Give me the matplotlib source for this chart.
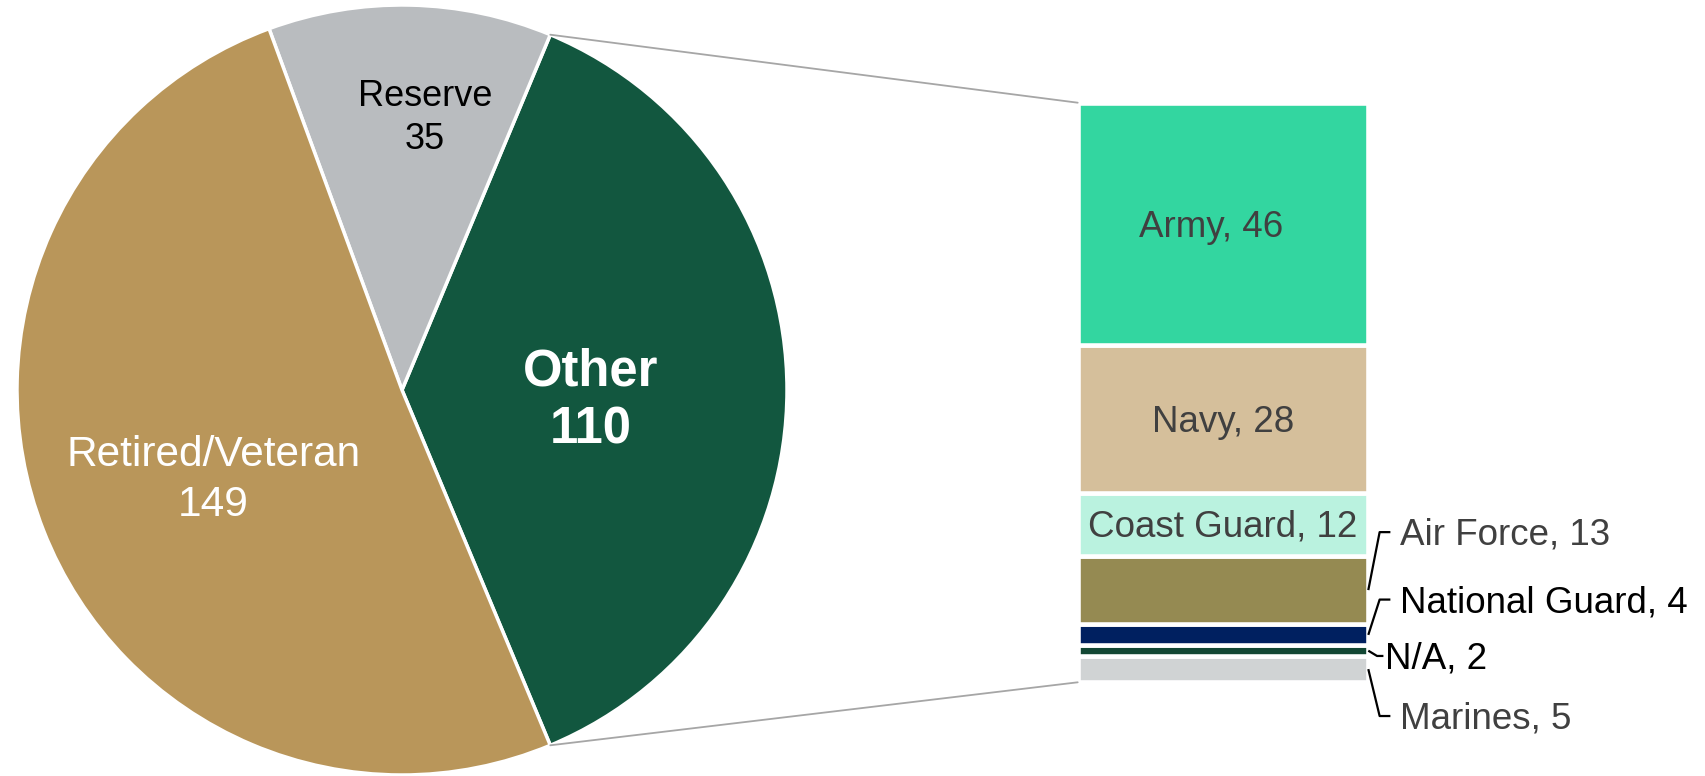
import numpy as np
import matplotlib.pyplot as plt
from matplotlib.patches import ConnectionPatch

plt.rcParams['font.family'] = ['Liberation Sans', 'DejaVu Sans']

# pie data
pie_labels = ["Other", "Reserve", "Retired/Veteran"]
pie_values = [110, 35, 149]
pie_colors = ["#12573F", "#B9BCBF", "#B9965A"]

# breakdown of "Other", bottom to top
sub_labels = ["Marines", "N/A", "National Guard", "Air Force", "Coast Guard", "Navy", "Army"]
sub_values = [5, 2, 4, 13, 12, 28, 46]
sub_colors = ["#D0D3D4", "#124734", "#002060", "#958A52", "#BAF2DF", "#D5BF9B", "#33D6A0"]

inside = {"Army", "Navy", "Coast Guard"}
outside_text_y = {"Air Force": 28.5, "National Guard": 15.7, "N/A": 5.0, "Marines": -6.4}
outside_colors = {"Air Force": "#404040", "National Guard": "black", "N/A": "black", "Marines": "#404040"}

W, H = 1706, 776
fig = plt.figure(figsize=(W / 100, H / 100), dpi=100)

# ---- pie ----
ax_pie = fig.add_axes([17 / W, 1 / H, 770 / W, 770 / H])
start = -360 * pie_values[0] / sum(pie_values) / 2
wedges, _ = ax_pie.pie(
    pie_values,
    colors=pie_colors,
    startangle=start,
    counterclock=True,
    radius=1,
    wedgeprops=dict(edgecolor="white", linewidth=2.5),
)
ax_pie.set_xlim(-1, 1)
ax_pie.set_ylim(-1, 1)
ax_pie.set_aspect("equal")
ax_pie.axis("off")

# label placement: distance from centre, angle nudge (deg), vertical shift
label_style = {
    "Other": dict(dist=0.49, nudge=-2, dy=-0.011, ls=1.25,
                  color="white", size=36.5, weight="bold"),
    "Reserve": dict(dist=0.72, nudge=-3.5, dy=-0.011, ls=1.33,
                    color="black", size=26, weight="normal"),
    "Retired/Veteran": dict(dist=0.54, nudge=3.5, dy=-0.007, ls=1.33,
                            color="white", size=30.5, weight="normal"),
}
for w, lbl, val in zip(wedges, pie_labels, pie_values):
    st = label_style[lbl]
    ang = np.deg2rad((w.theta1 + w.theta2) / 2 + st["nudge"])
    ax_pie.text(
        st["dist"] * np.cos(ang), st["dist"] * np.sin(ang) + st["dy"], f"{lbl}\n{val}",
        ha="center", va="center", color=st["color"], fontsize=st["size"],
        fontweight=st["weight"], linespacing=st["ls"],
    )

# ---- stacked bar ----
bar_left, bar_right = 1077.7, 1368.3
bar_top, bar_bottom = 102.7, 682.3
ax_bar = fig.add_axes([bar_left / W, (H - bar_bottom) / H,
                       (bar_right - bar_left) / W, (bar_bottom - bar_top) / H])
total = sum(sub_values)
bottoms = np.concatenate([[0], np.cumsum(sub_values)[:-1]])
ax_bar.bar(0, sub_values, width=1, bottom=bottoms, color=sub_colors,
           edgecolor="white", linewidth=3.3)
ax_bar.set_xlim(-0.5, 0.5)
ax_bar.set_ylim(0, total)
ax_bar.axis("off")

text_shift = -0.6  # move text a touch lower to sit like the original
for lbl, val, b in zip(sub_labels, sub_values, bottoms):
    mid = b + val / 2
    if lbl in inside:
        dx = -0.04 if lbl == "Army" else 0
        ax_bar.text(dx, mid + text_shift, f"{lbl}, {val}", ha="center", va="center",
                    color="#404040", fontsize=26.5)
    else:
        ty = outside_text_y[lbl]
        if lbl == "N/A":
            xs = [0.5, 0.53, 0.552]
            tx = 0.556
        else:
            xs = [0.5, 0.539, 0.576]
            tx = 0.61
        ax_bar.plot(xs, [mid, ty, ty], color="black", lw=1.6, clip_on=False,
                    solid_capstyle="butt")
        ax_bar.text(tx, ty + text_shift, f"{lbl}, {val}", ha="left", va="center",
                    color=outside_colors[lbl], fontsize=26.5, clip_on=False)

# ---- connector lines between pie and bar ----
other = wedges[0]
for theta, ybar in [(other.theta2, total), (other.theta1, 0)]:
    t = np.deg2rad(theta)
    con = ConnectionPatch(
        xyA=(np.cos(t), np.sin(t)), coordsA=ax_pie.transData,
        xyB=(-0.5, ybar), coordsB=ax_bar.transData,
        color="#A6A6A6", lw=1.3,
    )
    fig.add_artist(con)

fig.savefig("out.png", dpi=100)
